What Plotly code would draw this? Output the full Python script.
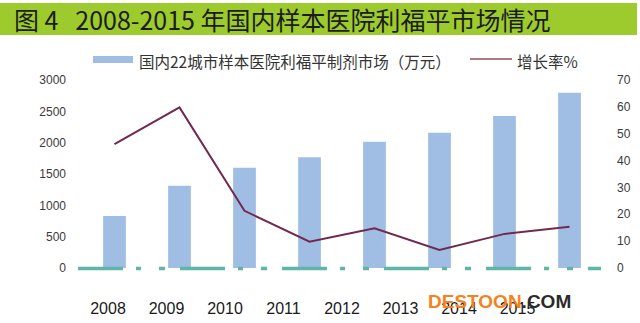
import plotly.graph_objects as go

# 2008-2015 rifampicin market in sample hospitals of 22 Chinese cities
years = ["2008", "2009", "2010", "2011", "2012", "2013", "2014", "2015"]
market_wan = [830, 1313, 1601, 1766, 2016, 2160, 2426, 2798]   # 万元
growth_pct = [46.1, 59.8, 21.3, 9.8, 14.8, 6.7, 12.7, 15.4]      # %
left_ticks = [0, 500, 1000, 1500, 2000, 2500, 3000]
right_ticks = [0, 10, 20, 30, 40, 50, 60, 70]

title_text = "图 4\u00a0\u00a0 2008-2015 年国内样本医院利福平市场情况"
bar_name = "国内22城市样本医院利福平制剂市场（万元）"
line_name = "增长率%"

W, H = 640, 323
L, R, T, B = 82, 38, 80, 55
PW, PH = W - L - R, H - T - B

BAR_COLOR = "#a0bee3"
LINE_COLOR = "#72294f"
BANNER = "#9dcb2e"
TEAL = "#5fb5a8"
CJK = "Noto Sans CJK SC"
LATIN = "Liberation Sans, Arial, sans-serif"


def px_x(px):
    return (px - L) / PW


def px_y(py):
    return (H - B - py) / PH


fig = go.Figure()

fig.add_trace(go.Bar(
    x=years, y=market_wan, name=bar_name,
    marker=dict(color=BAR_COLOR, line=dict(width=0)),
    width=0.35, showlegend=False, xaxis="x", yaxis="y",
))

fig.add_trace(go.Scatter(
    x=years, y=growth_pct, name=line_name, mode="lines",
    line=dict(color=LINE_COLOR, width=2),
    showlegend=False, xaxis="x", yaxis="y2",
))

# carrier for the year labels along the bottom axis
fig.add_trace(go.Scatter(
    x=list(range(len(years))), y=[0] * len(years), mode="markers",
    marker=dict(opacity=0), hoverinfo="skip", showlegend=False,
    xaxis="x2", yaxis="y",
))

shapes = [
    # title banner
    dict(type="rect", xref="paper", yref="paper",
         x0=px_x(0), x1=px_x(637), y0=px_y(35), y1=px_y(3),
         fillcolor=BANNER, line=dict(width=0), layer="above"),
    # dashed baseline
    dict(type="line", xref="paper", yref="paper",
         x0=px_x(78), x1=px_x(601), y0=px_y(268.5), y1=px_y(268.5),
         line=dict(color=TEAL, width=3.5, dash="45px,13px,5px,18px,6px,15px")),
    # legend swatches
    dict(type="rect", xref="paper", yref="paper",
         x0=px_x(93), x1=px_x(133), y0=px_y(63), y1=px_y(56),
         fillcolor=BAR_COLOR, line=dict(width=0)),
    dict(type="line", xref="paper", yref="paper",
         x0=px_x(470), x1=px_x(512), y0=px_y(59), y1=px_y(59),
         line=dict(color="#b07a80", width=2)),
]

annotations = [
    dict(text=title_text, xref="paper", yref="paper",
         x=px_x(12), y=px_y(19), xanchor="left", yanchor="middle",
         showarrow=False, font=dict(family=CJK, size=25, color="#1c1c1c")),
    dict(text=bar_name, xref="paper", yref="paper",
         x=px_x(137), y=px_y(61), xanchor="left", yanchor="middle",
         showarrow=False, font=dict(family=CJK, size=15.5, color="#333333")),
    dict(text=line_name, xref="paper", yref="paper",
         x=px_x(515), y=px_y(61), xanchor="left", yanchor="middle",
         showarrow=False, font=dict(family=CJK, size=15.5, color="#333333")),
    dict(text='<b><span style="color:#f58220">DESTOON</span>'
              '<span style="color:#2b2b2b">.COM</span></b>',
         xref="paper", yref="paper",
         x=px_x(499), y=px_y(301), xanchor="center", yanchor="middle",
         showarrow=False, font=dict(family=LATIN, size=19)),
]

fig.update_layout(
    width=W, height=H,
    margin=dict(l=L, r=R, t=T, b=B, pad=0, autoexpand=False),
    paper_bgcolor="white", plot_bgcolor="white",
    bargap=0.65,
    shapes=shapes, annotations=annotations,
    xaxis=dict(
        type="category", range=[-0.5, len(years) - 0.5],
        showticklabels=False, showgrid=False, zeroline=False,
        showline=False, ticks="", fixedrange=True, automargin=False,
    ),
    xaxis2=dict(
        overlaying="x", anchor="y", side="bottom",
        range=[-0.444, len(years) + 0.444],
        tickmode="array", tickvals=list(range(len(years))), ticktext=years,
        showgrid=False, zeroline=False, showline=False, ticks="",
        ticklabelstandoff=29, automargin=False,
        tickfont=dict(family=LATIN, size=16, color="#1a1a1a"),
    ),
    yaxis=dict(
        range=[0, 3000], tickmode="array", tickvals=left_ticks,
        showgrid=False, zeroline=False, showline=False, ticks="",
        ticklabelstandoff=15, automargin=False,
        tickfont=dict(family=LATIN, size=12, color="#3a3a3a"),
    ),
    yaxis2=dict(
        range=[0, 70], overlaying="y", side="right",
        tickmode="array", tickvals=right_ticks,
        showgrid=False, zeroline=False, showline=False, ticks="",
        ticklabelstandoff=14, automargin=False,
        tickfont=dict(family=LATIN, size=12, color="#3a3a3a"),
    ),
)

fig.write_html("out.html")
